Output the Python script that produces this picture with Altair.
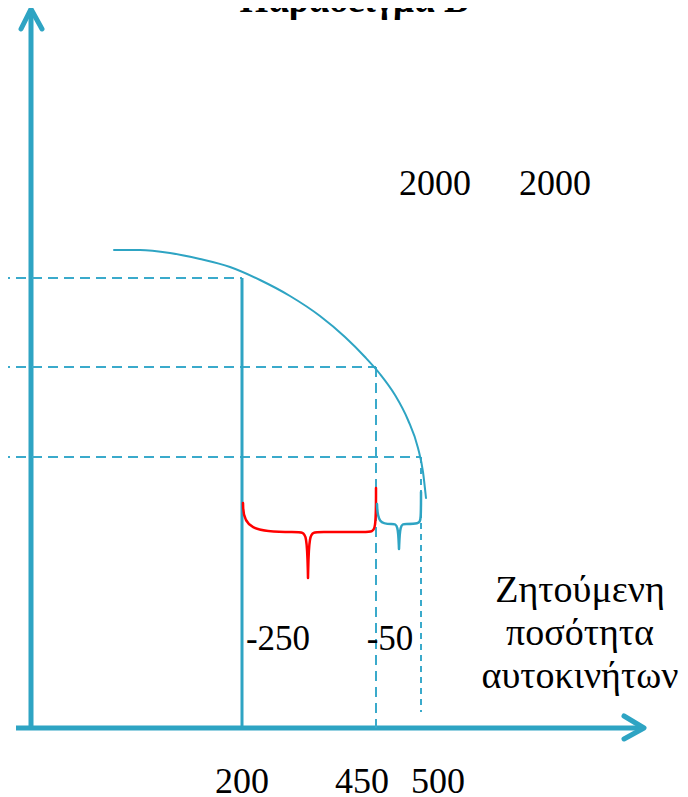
import altair as alt
import pandas as pd

# ---- diagram data (diagram units = page pixels) ----
TEAL = "#2ea4c3"
TEAL_D = "#3aaacb"
RED = "#ff0000"

# demand curve
curve_x = [114, 140, 170, 200, 230, 260, 290, 320, 345, 365, 380, 395, 408, 418, 423, 426]
curve_y = [250, 250, 253, 259, 267, 280, 296, 316, 337, 357, 374, 395, 420, 448, 472, 498]

# axes
yaxis_x = [31, 31]
yaxis_y = [10, 730]
xaxis_x = [16, 643]
xaxis_y = [728, 728]
yarrow_x = [21, 31, 42]
yarrow_y = [29, 9, 29]
xarrow_x = [624, 644, 624]
xarrow_y = [716, 728, 739]

# price levels (horizontal dashed) and quantities (vertical)
level_y = [278, 367, 457]
level_xend = [242, 376, 421]
vdash_x = [376, 421]
vdash_ytop = [367, 457]
vdash_ybot = [728, 712]
vdash_style = [[10, 6], [6, 5]]
solid_x = [242]
solid_ytop = [278]
solid_ybot = [728]

# braces
red_brace_x = [243, 244, 300, 307, 308, 308, 308, 309, 316, 370, 376, 376]
red_brace_y = [503, 532, 532, 532, 578, 578, 578, 532, 532, 532, 532, 488]
teal_brace_x = [377, 378, 393, 398, 399, 399, 399, 400, 405, 419, 421, 421]
teal_brace_y = [504, 524, 524, 524, 549, 549, 549, 524, 524, 524, 520, 492]

# texts
price_labels = ["2000", "2000"]
price_x = [435, 555]
price_y = [195, 195]
change_labels = ["-250", "-50"]
change_x = [278, 390]
change_y = [650, 650]
qty_labels = ["200", "450", "500"]
qty_x = [242, 362, 438]
qty_y = [793, 793, 793]
axis_title = ["Ζητούμενη", "ποσότητα", "αυτοκινήτων"]
axis_title_x = [580, 580, 580]
axis_title_y = [602, 645, 688]
title_text = ["Παράδειγμα Β"]
title_x = [354]
title_y = [12]

W, H = 672, 789
xs = alt.Scale(domain=[8, 8 + W], nice=False, zero=False)
ys = alt.Scale(domain=[8, 8 + H], nice=False, zero=False, reverse=True)


def X(f="x"):
    return alt.X(f"{f}:Q", scale=xs, axis=None)


def Y(f="y"):
    return alt.Y(f"{f}:Q", scale=ys, axis=None)


def line_layer(xs_, ys_, color, width, interp="linear", dash=None, cap="round"):
    df = pd.DataFrame({"x": xs_, "y": ys_, "o": list(range(len(xs_)))})
    kw = dict(color=color, strokeWidth=width, interpolate=interp, strokeCap=cap,
              strokeJoin="round")
    if dash:
        kw["strokeDash"] = dash
    return alt.Chart(df).mark_line(**kw).encode(x=X(), y=Y(), order="o:Q")


layers = []
# axes
layers.append(line_layer(yaxis_x, yaxis_y, TEAL, 5, cap="butt"))
layers.append(line_layer(xaxis_x, xaxis_y, TEAL, 5, cap="butt"))
layers.append(line_layer(yarrow_x, yarrow_y, TEAL, 5))
layers.append(line_layer(xarrow_x, xarrow_y, TEAL, 5))

# dashed horizontal levels
for ly, lx in zip(level_y, level_xend):
    layers.append(line_layer([0, lx], [ly, ly], TEAL_D, 2, dash=[10, 6], cap="butt"))
# dashed verticals
for vx, vt, vb, vd in zip(vdash_x, vdash_ytop, vdash_ybot, vdash_style):
    layers.append(line_layer([vx, vx], [vt, vb], TEAL_D, 2, dash=vd, cap="butt"))
# solid vertical at 200
for sx, st, sb in zip(solid_x, solid_ytop, solid_ybot):
    layers.append(line_layer([sx, sx], [st, sb], TEAL, 3, cap="butt"))

# demand curve
layers.append(line_layer(curve_x, curve_y, TEAL, 2, interp="monotone"))

# braces
layers.append(line_layer(red_brace_x, red_brace_y, RED, 2.5, interp="basis"))
layers.append(line_layer(teal_brace_x, teal_brace_y, TEAL, 2.5, interp="basis"))


def text_layer(texts, xs_, ys_, size, weight="normal", align="center"):
    df = pd.DataFrame({"t": texts, "x": xs_, "y": ys_})
    return alt.Chart(df).mark_text(
        font="Liberation Serif", fontSize=size, fontWeight=weight,
        align=align, baseline="alphabetic", color="black"
    ).encode(x=X(), y=Y(), text="t:N")


layers.append(text_layer(price_labels, price_x, price_y, 36))
layers.append(text_layer(change_labels, change_x, change_y, 35))
layers.append(text_layer(qty_labels, qty_x, qty_y, 36))
layers.append(text_layer(axis_title, axis_title_x, axis_title_y, 38))
layers.append(text_layer(title_text, title_x, title_y, 37, weight="bold"))

chart = alt.layer(*layers).properties(
    width=W, height=H, autosize=alt.AutoSizeParams(type="none"), padding=0
).configure_view(stroke=None)

chart.save("out.html", embed_options={"renderer": "svg", "actions": False})
